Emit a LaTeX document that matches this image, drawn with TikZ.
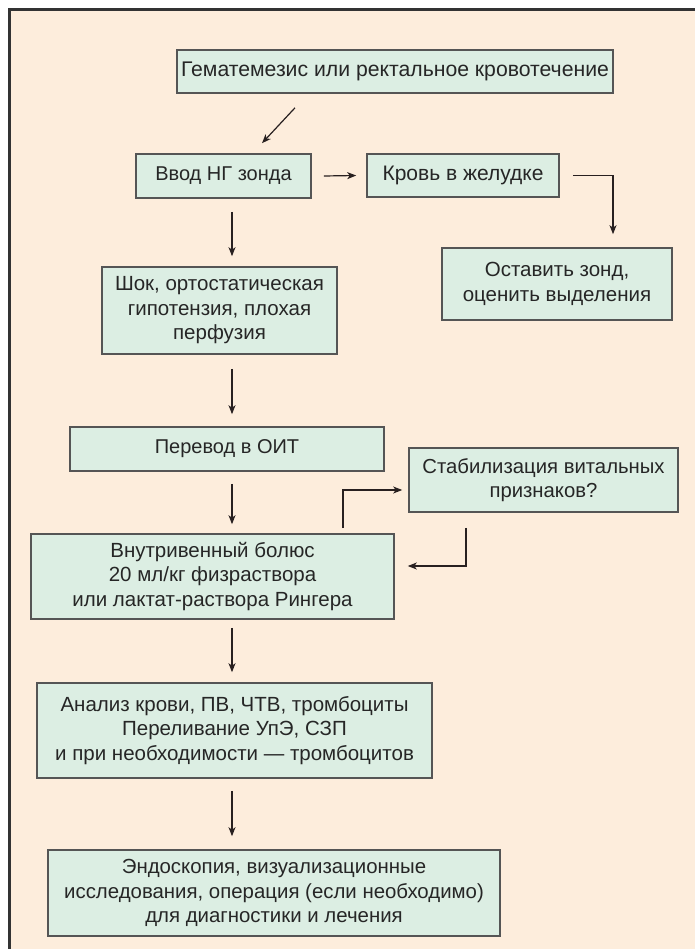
\documentclass[tikz,border=0pt]{standalone}
\usepackage{fontspec}
\setmainfont{Liberation Sans}
\definecolor{PanelPeach}{RGB}{253, 237, 220}
\definecolor{BoxGreen}{RGB}{220, 238, 227}
\definecolor{BoxEdge}{RGB}{85, 85, 85}
\definecolor{ArrowInk}{RGB}{40, 32, 32}
\usetikzlibrary{arrows.meta}

\begin{document}
\begin{tikzpicture}[
      x=1pt, y=-1pt,
      stepbox/.style={draw=BoxEdge, fill=BoxGreen, line width=1.6pt,
        align=center, inner sep=1pt, text=black!85,
        font=\fontsize{#1}{24.5}\selectfont},
      stepbox/.default=20.5,
      flow/.style={draw=ArrowInk, line width=1.2pt,
        -{Stealth[length=9pt, width=7pt, inset=2.5pt]}}
    ]
    \useasboundingbox (0,0) rectangle (695,949);
    \draw[fill=PanelPeach, draw=black!80, line width=3pt]
         (9.5,10) rectangle (710,965);

    \node[stepbox=21.2, minimum width=436pt, minimum height=43pt] (bleed) at (395,71.5)
         {Гематемезис или ректальное кровотечение};
    \node[stepbox=20, minimum width=175pt, minimum height=44pt] (tube) at (223.5,176)
         {Ввод НГ зонда};
    \node[stepbox=21, minimum width=192pt, minimum height=43pt] (blood) at (463,175.5)
         {Кровь в желудке};
    \node[stepbox, minimum width=230pt, minimum height=72pt] (keep) at (557,284)
         {Оставить зонд,\\ оценить выделения};
    \node[stepbox, minimum width=235pt, minimum height=87pt] (shock) at (219.5,310.5)
         {Шок, ортостатическая\\ гипотензия, плохая\\ перфузия};
    \node[stepbox=20, minimum width=314pt, minimum height=44pt] (icu) at (227,449)
         {Перевод в ОИТ};
    \node[stepbox=20.3, minimum width=269pt, minimum height=64pt] (vitals) at (543.5,480)
         {Стабилизация витальных\\ признаков?};
    \node[stepbox, minimum width=363pt, minimum height=85pt] (bolus) at (212.5,576.5)
         {Внутривенный болюс\\ 20 мл/кг физраствора\\ или лактат-раствора Рингера};
    \node[stepbox, minimum width=395pt, minimum height=95pt] (labs) at (234.5,730.5)
         {Анализ крови, ПВ, ЧТВ, тромбоциты\\ Переливание УпЭ, СЗП\\
          и при необходимости — тромбоцитов};
    \node[stepbox=20.4, minimum width=452pt, minimum height=86pt] (endo) at (274,893)
         {Эндоскопия, визуализационные\\ исследования, операция (если необходимо)\\
          для диагностики и лечения};

    \draw[flow] ([xshift=-100pt, yshift=-14pt]bleed.south)
         -- ([xshift=38.5pt, yshift=10pt]tube.north);
    \draw[flow] ([xshift=12pt]tube.east) -- ([xshift=-10pt]blood.west);
    \draw[flow] ([xshift=13pt]blood.east) -| ([xshift=56pt, yshift=13pt]keep.north);
    \draw[flow] ([xshift=8.5pt, yshift=-13pt]tube.south)
         -- ([xshift=12.5pt, yshift=10pt]shock.north);
    \draw[flow] ([xshift=12.5pt, yshift=-14pt]shock.south)
         -- ([xshift=5pt, yshift=12pt]icu.north);
    \draw[flow] ([xshift=5pt, yshift=-12pt]icu.south)
         -- ([xshift=19.5pt, yshift=9pt]bolus.north);
    \draw[flow] ([xshift=130.5pt, yshift=5pt]bolus.north)
         |- ([xshift=-6pt, yshift=-10pt]vitals.west);
    \draw[flow] ([xshift=-77.5pt, yshift=-15pt]vitals.south)
         |- ([xshift=13pt, yshift=10.5pt]bolus.east);
    \draw[flow] ([xshift=19.5pt, yshift=-8pt]bolus.south)
         -- ([xshift=-2.5pt, yshift=10pt]labs.north);
    \draw[flow] ([xshift=-2.5pt, yshift=-12pt]labs.south)
         -- ([xshift=-42pt, yshift=13pt]endo.north);
  \end{tikzpicture}
\end{document}
